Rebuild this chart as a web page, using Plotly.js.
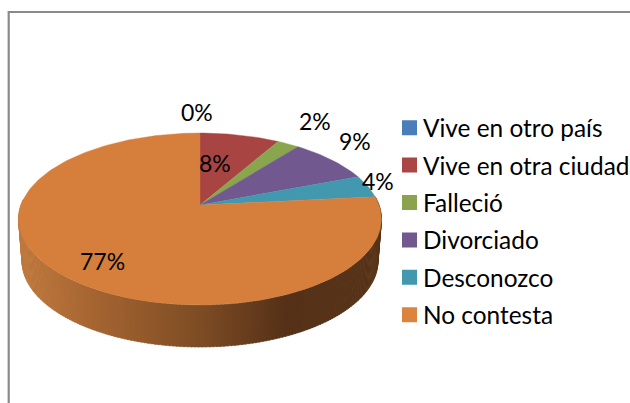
<!DOCTYPE html>
<html>
<head>
<meta charset="utf-8">
<script src="https://cdn.plot.ly/plotly-3.0.1.min.js"></script>
<style>html,body{margin:0;padding:0;background:#fff;overflow:hidden;width:630px;height:403px}#chart{width:660px;height:403px}</style>
</head>
<body>
<div id="chart"></div>
<script>
const categories = ["Vive en otro país","Vive en otra ciudad","Falleció","Divorciado","Desconozco","No contesta"];
const values = [0,8.3,2.3,8.6,4.2,76.6];
const topColors = ["#4a7ebb","#a84543","#89a64e","#71588f","#4198af","#d67f3c"];
const legendColors = ["#4a7ebb","#aa4644","#8ba34d","#71588f","#4198af","#db843d"];
const labelAnchors = [[197,112],[215,163],[315,121],[355,141],[378,181],[102,261]];

// The drawing surface is a little wider than the window so the long legend
// entry runs to the window edge without the legend squeezing the plot area.
const surfaceW = 660, surfaceH = 403;

// Perspective disc: the pie lies on a plane tilted away from the viewer.
const apexX = 200, apexY = 205, persp = 0.163;
const topR = 179, topK = 83.7, botR = 175.6, botK = 83.7, botY = 247;
const sideStops = [[18,[192,122,62]],[100,[163,99,48]],[200,[125,76,36]],[285,[85,49,24]],[385,[88,52,25]]];

function rim(deg, r, k, cy) {
  const a = deg*Math.PI/180, u = Math.sin(a), v = Math.cos(a), w = 1+persp*v;
  return [apexX + r*u/w, cy - k*v/w];
}
function sideColor(x) {
  for (let i=1;i<sideStops.length;i++) {
    if (x<=sideStops[i][0]) {
      const [x0,c0]=sideStops[i-1],[x1,c1]=sideStops[i],t=Math.max(0,(x-x0)/(x1-x0));
      return "rgb("+c0.map((c,j)=>Math.round(c+(c1[j]-c)*t)).join(",")+")";
    }
  }
  return "rgb("+sideStops[sideStops.length-1][1].join(",")+")";
}

const total = values.reduce((a,b)=>a+b,0);
const traces = [];
let cum = 0;
const spans = values.map(v=>{const s=[cum/total*360,(cum+v)/total*360];cum+=v;return s;});

// Side wall of the front-facing part of the last slice, in thin shaded strips.
const lastStart = spans[5][0];
const sideEnd = 274, step = 1;
for (let d=lastStart; d<sideEnd; d+=step) {
  const e=Math.min(d+step+0.3,sideEnd);
  const a=rim(d,topR,topK,apexY), b=rim(e,topR,topK,apexY), c=rim(e,botR,botK,botY), f=rim(d,botR,botK,botY);
  const col=sideColor((a[0]+b[0]+c[0]+f[0])/4);
  traces.push({x:[a[0],b[0],c[0],f[0],a[0]],y:[a[1],b[1],c[1],f[1],a[1]],mode:"lines",fill:"toself",fillcolor:col,
    line:{color:col,width:0.5},showlegend:false,hoverinfo:"skip"});
}

// Top faces
spans.forEach((s,i)=>{
  const xs=[apexX], ys=[apexY];
  const n=Math.max(2,Math.ceil((s[1]-s[0])/1.5));
  for(let j=0;j<=n;j++){const p=rim(s[0]+(s[1]-s[0])*j/n,topR,topK,apexY);xs.push(p[0]);ys.push(p[1]);}
  xs.push(apexX);ys.push(apexY);
  traces.push({x:xs,y:ys,mode:"lines",fill:"toself",fillcolor:topColors[i],line:{color:topColors[i],width:0.4},
    name:categories[i],showlegend:false,hoverinfo:"name"});
});

// Legend entries
categories.forEach((c,i)=>{
  traces.push({x:[null],y:[null],mode:"markers",name:c,legendgroup:"g"+i,showlegend:true,
    marker:{symbol:"square",size:15,color:legendColors[i]}});
});

const font = "Lato, Carlito, sans-serif";
const annotations = values.map((v,i)=>({x:labelAnchors[i][0],y:labelAnchors[i][1],xref:"x",yref:"y",
  text:Math.round(v/total*100)+"%",showarrow:false,xanchor:"center",yanchor:"middle",
  font:{family:font,size:23,color:"#000"}}));

const layout = {
  width:surfaceW,height:surfaceH,margin:{l:0,r:0,t:0,b:0,pad:0},paper_bgcolor:"#fff",plot_bgcolor:"#fff",
  xaxis:{range:[0,surfaceW],visible:false,fixedrange:true},
  yaxis:{range:[surfaceH,0],visible:false,fixedrange:true},
  shapes:[{type:"path",xref:"x",yref:"y",path:"M 8.7 410 L 8.7 12 L 670 12",line:{color:"#8a8a8a",width:2.2},layer:"below"}],
  annotations,
  showlegend:true,
  legend:{x:389.5/surfaceW,y:1-105.3/surfaceH,xanchor:"left",yanchor:"top",bgcolor:"rgba(0,0,0,0)",borderwidth:0,
    tracegroupgap:2.7,traceorder:"grouped",font:{family:font,size:24.4,color:"#000"},itemclick:false,itemdoubleclick:false}
};

Plotly.newPlot("chart",traces,layout,{displayModeBar:false}).then(gd=>{
  const shift=()=>gd.querySelectorAll(".legendtext").forEach(t=>{
    t.setAttribute("x","33.5");
    t.querySelectorAll("tspan[x]").forEach(s=>s.setAttribute("x","33.5"));
  });
  shift();
  gd.on("plotly_afterplot",shift);
});
</script>
</body>
</html>
